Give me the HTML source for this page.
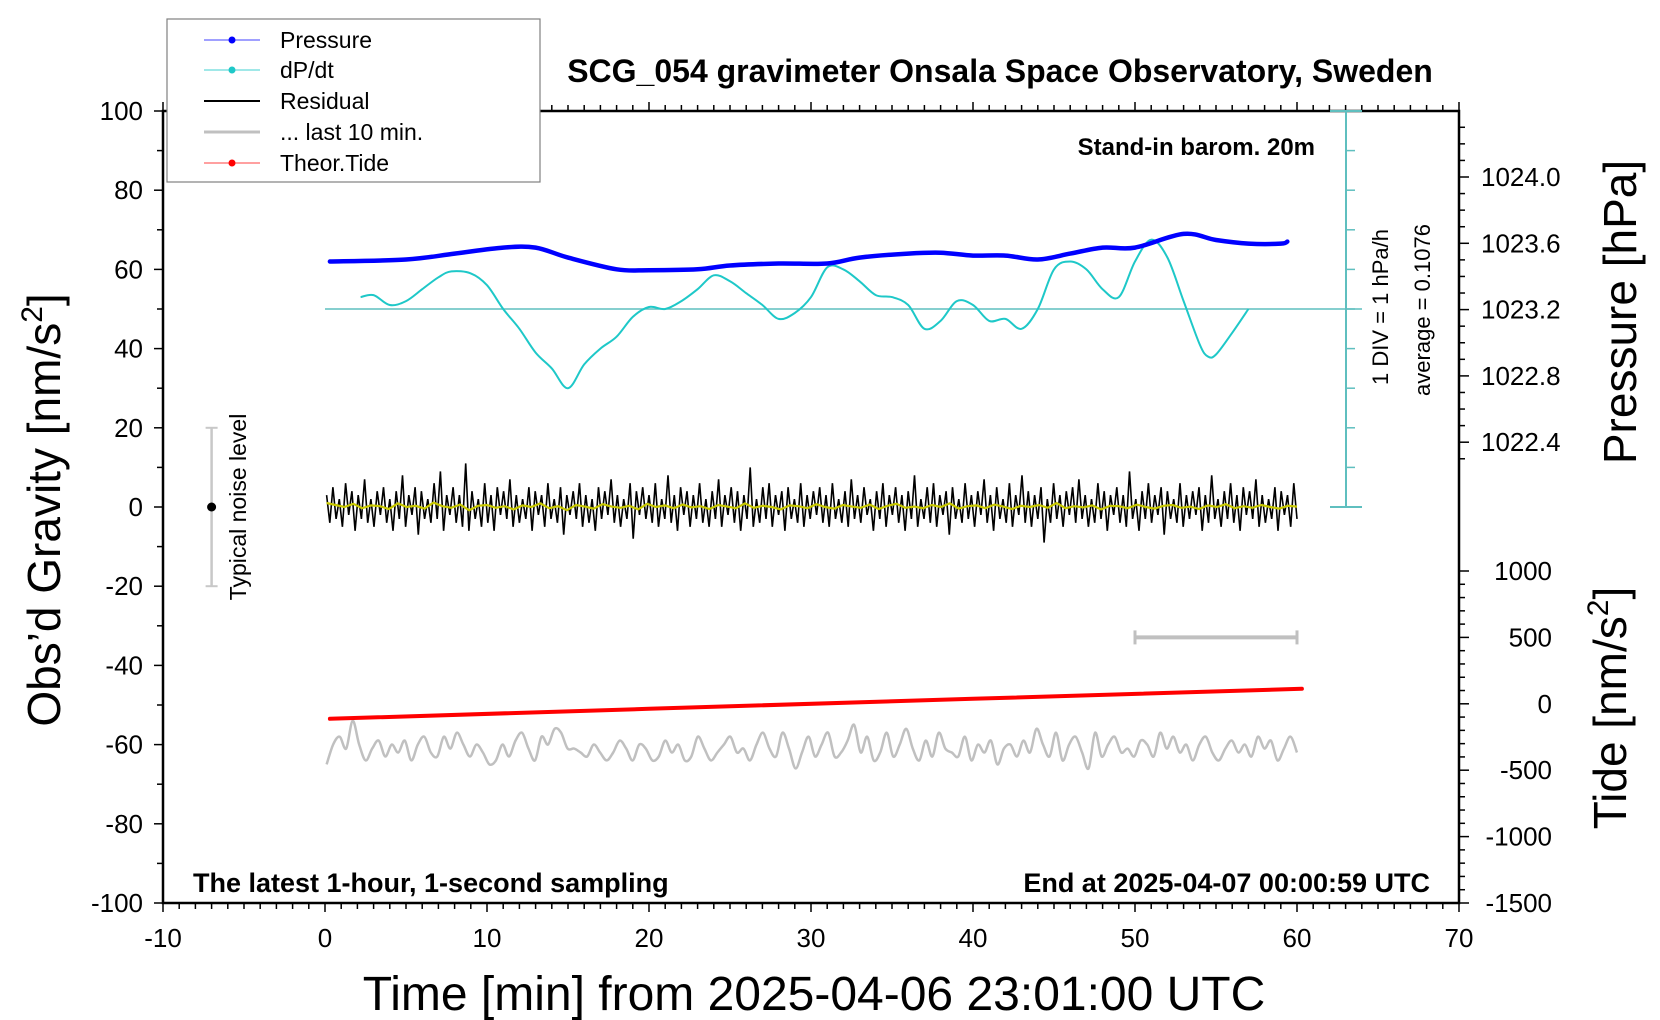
<!DOCTYPE html>
<html><head><meta charset="utf-8"><style>
html,body{margin:0;padding:0;background:#fff;}
svg{display:block;font-family:"Liberation Sans",sans-serif;}
</style></head><body>
<svg id="chart" width="1660" height="1020" viewBox="0 0 1660 1020" xmlns="http://www.w3.org/2000/svg">
<rect x="0" y="0" width="1660" height="1020" fill="#fff"/>
<g id="axes"></g>
<g id="series"></g>
<g id="labels"></g>
</svg>
<script>
// ---- data ----
const xTicks = [-10,0,10,20,30,40,50,60,70];
const gTicks = [100,80,60,40,20,0,-20,-40,-60,-80,-100];
const pTicks = [1024.0,1023.6,1023.2,1022.8,1022.4];
const tideTicks = [1000,500,0,-500,-1000,-1500];
const pressureT = [0.3,5,8,11,13,15,18,20,23,25,28,31,33,36,38,40,42,44,46,48,50,53,55,57,59,59.4];
const pressureV = [1023.49,1023.502,1023.538,1023.574,1023.574,1023.514,1023.443,1023.438,1023.443,1023.466,1023.478,1023.478,1023.514,1023.538,1023.543,1023.526,1023.526,1023.502,1023.538,1023.574,1023.574,1023.657,1023.62,1023.598,1023.598,1023.61];
const dpdtT = [2.2,3,4,5,6,7,7.8,9,10,11,12,13,14,15,16,17,18,19,20,21,22,23,24,25,26,27,28,29,30,31,32,33,34,35,36,37,38,39,40,41,42,43,44,45,46,47,48,49,50,51,52,53,54,54.5,55,56,57];
const dpdtV = [0.3,0.35,0.1,0.2,0.5,0.8,0.95,0.9,0.6,0.0,-0.5,-1.1,-1.5,-2.0,-1.4,-1.0,-0.7,-0.2,0.05,0.0,0.2,0.5,0.85,0.7,0.4,0.1,-0.25,-0.1,0.3,1.05,1.0,0.7,0.35,0.3,0.1,-0.5,-0.3,0.2,0.1,-0.3,-0.25,-0.5,0.0,1.0,1.2,1.0,0.5,0.3,1.2,1.75,1.3,0.2,-0.9,-1.2,-1.15,-0.6,0.0];
const dpdtAverage = 0.1076;
const residualV = [3,-4,5,-3,2,-5,6,-2,4,-6,3,-3,7,-4,2,-5,4,-2,5,-4,2,-6,4,-3,8,-5,3,-2,5,-7,4,-3,2,-4,6,-3,9,-6,3,-2,5,-4,3,-5,11,-6,4,-3,2,-5,6,-4,3,-6,5,-2,4,-3,7,-5,3,-4,2,-3,5,-6,4,-2,3,-5,6,-3,2,-4,5,-7,3,-2,4,-3,6,-5,3,-4,2,-6,5,-3,4,-2,7,-4,3,-5,2,-3,6,-8,4,-2,5,-3,3,-4,6,-5,2,-3,8,-4,3,-6,5,-2,4,-5,3,-3,6,-4,2,-5,4,-3,7,-5,3,-2,5,-4,4,-6,3,-3,10,-5,2,-4,5,-3,6,-5,3,-2,4,-6,5,-3,2,-4,6,-5,3,-3,4,-2,5,-4,3,-5,6,-3,2,-4,4,-5,7,-3,3,-4,5,-2,2,-6,4,-3,6,-5,3,-2,5,-4,3,-6,4,-3,8,-5,2,-3,5,-4,6,-5,3,-2,4,-7,5,-3,2,-4,6,-3,3,-5,4,-2,7,-4,3,-6,5,-3,2,-4,6,-5,3,-2,8,-4,4,-5,3,-3,5,-9,2,-4,6,-3,3,-5,4,-2,5,-4,7,-3,3,-5,2,-4,6,-3,4,-6,3,-2,5,-4,3,-5,9,-3,2,-6,4,-3,6,-4,3,-2,5,-7,4,-3,2,-4,6,-5,3,-3,4,-2,5,-6,3,-4,8,-3,2,-5,4,-3,6,-4,3,-6,5,-2,4,-3,7,-5,3,-4,2,-3,5,-6,4,-2,3,-5,6,-3];
const smoothV = [1,0.5,0,0.8,-0.3,0.4,0.2,-0.5,0.9,0,0.3,-0.4,1.1,0.2,-0.2,0.6,-0.8,0.3,0.5,-0.2,0.2,-0.6,0.4,0,0.9,-0.3,0.2,-0.8,0.5,0.1,-0.4,0.7,0.1,-0.2,0.3,-0.6,0.8,0,0.4,-0.3,0.6,-0.1,0.2,-0.5,0.5,0.1,-0.3,0.9,-0.2,0.3,0,-0.6,0.4,0.2,-0.3,0.7,0,-0.4,0.5,0.1,-0.2,0.6,-0.5,0.3,0.8,-0.2,0.1,-0.3,0.5,0,0.9,-0.4,0.2,0.4,-0.3,0.6,0.1,-0.5,0.3,0,0.5,-0.2,1,-0.3,0.2,-0.1,0.4,-0.6,0.3,0.2,-0.3,0.6,0,-0.4,0.3,0.5,-0.2,0.1,-0.5,0.4,0,0.7,-0.3,0.2,-0.2,0.5,0,-0.4,0.3,0.1];
const last10V = [-65,-60,-58,-61,-54,-60,-64,-61,-59,-63,-60,-62,-59,-64,-60,-58,-62,-63,-58,-61,-57,-60,-63,-60,-62,-65,-64,-60,-63,-59,-57,-61,-64,-58,-60,-56,-57,-61,-61,-62,-63,-60,-62,-64,-62,-59,-61,-64,-60,-61,-64,-63,-59,-62,-60,-64,-63,-58,-61,-64,-62,-60,-58,-62,-61,-64,-60,-57,-61,-63,-57,-61,-66,-62,-58,-63,-60,-57,-63,-62,-59,-55,-62,-58,-64,-62,-57,-63,-60,-56,-61,-64,-59,-63,-57,-61,-62,-63,-58,-64,-60,-62,-59,-65,-61,-60,-63,-59,-62,-56,-60,-63,-57,-64,-60,-58,-62,-66,-57,-63,-60,-58,-62,-61,-63,-59,-60,-63,-57,-61,-58,-62,-60,-64,-60,-58,-62,-64,-61,-59,-62,-60,-63,-58,-61,-59,-64,-61,-58,-62];
const tideT = [0.3,20,40,60.3];
const tideV = [-113,-38,38,113];

// ---- scales ----
const X0=163, X1=1459, Y0=111, Y1=903;
const xS = t => X0 + (t+10)*(X1-X0)/80;
const yG = v => Y0 + (100-v)*(Y1-Y0)/200;
const yP = p => 177 + (1024-p)*(66.3/0.4);
const yT = n => Y1 - (n+1500)*(66.4/500);
const yD = d => yG(50 + d*10);

const NS='http://www.w3.org/2000/svg';
function mk(tag, attrs, parent, text){
  const e=document.createElementNS(NS,tag);
  for(const k in attrs) e.setAttribute(k,attrs[k]);
  if(text!==undefined) e.textContent=text;
  parent.appendChild(e); return e;
}
const axes=document.getElementById('axes');
const series=document.getElementById('series');
const labels=document.getElementById('labels');

function smoothPath(pts){
  let d='M'+pts[0][0].toFixed(1)+','+pts[0][1].toFixed(1);
  for(let i=0;i<pts.length-1;i++){
    const p0=pts[i-1]||pts[i],p1=pts[i],p2=pts[i+1],p3=pts[i+2]||p2;
    const c1=[p1[0]+(p2[0]-p0[0])/6,p1[1]+(p2[1]-p0[1])/6];
    const c2=[p2[0]-(p3[0]-p1[0])/6,p2[1]-(p3[1]-p1[1])/6];
    d+='C'+c1[0].toFixed(1)+','+c1[1].toFixed(1)+' '+c2[0].toFixed(1)+','+c2[1].toFixed(1)+' '+p2[0].toFixed(1)+','+p2[1].toFixed(1);
  }
  return d;
}
function poly(pts){return pts.map(p=>p[0].toFixed(1)+','+p[1].toFixed(1)).join(' ');}

const frame=mk('rect',{x:X0,y:Y0,width:X1-X0,height:Y1-Y0,fill:'none',stroke:'#000','stroke-width':2.5},axes);



for(let m=-10;m<=70;m++){
  const x=xS(m), major=(m%10===0);
  const L=major?9:6;
  mk('line',{x1:x,y1:Y1,x2:x,y2:Y1+L,stroke:'#000','stroke-width':1.5},axes);
  mk('line',{x1:x,y1:Y0,x2:x,y2:Y0-L,stroke:'#000','stroke-width':1.5},axes);
}
xTicks.forEach(t=>{
  const e=mk('text',{x:xS(t),y:947,'text-anchor':'middle','font-size':26},labels,String(t));
  
  
});
for(let v=-100;v<=100;v+=10){
  const y=yG(v), major=(v%20===0);
  mk('line',{x1:X0,y1:y,x2:X0-(major?9:6),y2:y,stroke:'#000','stroke-width':1.5},axes);
}
gTicks.forEach(v=>{
  const e=mk('text',{x:143,y:yG(v)+9,'text-anchor':'end','font-size':26},labels,String(v));
  
  
});
for(let i=-2;i<=19;i++){
  const p=1024.0+0.2 - i*0.1;
  const y=yP(p); if(y<Y0+2||y>Y1) continue;
  const maj=Math.abs(((1024.0-p)/0.4)-Math.round((1024.0-p)/0.4))<0.01 && y<460;
  mk('line',{x1:X1,y1:y,x2:X1+(maj?10:6),y2:y,stroke:'#000','stroke-width':1.5},axes);
}
pTicks.forEach(p=>{
  const e=mk('text',{x:1481,y:yP(p)+9,'font-size':26},labels,p.toFixed(1));
  
  
});
for(let n=-1500;n<=1000;n+=100){
  const y=yT(n), maj=(n%500===0);
  mk('line',{x1:X1,y1:y,x2:X1+(maj?10:6),y2:y,stroke:'#000','stroke-width':1.5},axes);
}
tideTicks.forEach(n=>{
  const e=mk('text',{x:1552,y:yT(n)+9,'text-anchor':'end','font-size':26},labels,String(n));
  
  
});

const sx=1346;
mk('line',{x1:sx,y1:yG(100),x2:sx,y2:yG(0),stroke:'#5fbfbf','stroke-width':2},axes);
for(let v=10;v<100;v+=10){ mk('line',{x1:sx,y1:yG(v),x2:sx+9,y2:yG(v),stroke:'#5fbfbf','stroke-width':1.5},axes); }
mk('line',{x1:sx-16,y1:yG(100),x2:sx+16,y2:yG(100),stroke:'#5fbfbf','stroke-width':2},axes);
mk('line',{x1:sx-16,y1:yG(0),x2:sx+16,y2:yG(0),stroke:'#5fbfbf','stroke-width':2},axes);
const zl=mk('line',{x1:xS(0),y1:yD(0),x2:sx+16,y2:yD(0),stroke:'#5fbfbf','stroke-width':1.5},series);



mk('line',{x1:xS(-7),y1:yG(20),x2:xS(-7),y2:yG(-20),stroke:'#c8c8c8','stroke-width':2.5},series);
mk('line',{x1:xS(-7)-6,y1:yG(20),x2:xS(-7)+6,y2:yG(20),stroke:'#c8c8c8','stroke-width':2},series);
mk('line',{x1:xS(-7)-6,y1:yG(-20),x2:xS(-7)+6,y2:yG(-20),stroke:'#c8c8c8','stroke-width':2},series);
mk('circle',{cx:xS(-7),cy:yG(0),r:4.5,fill:'#000'},series);

const b10y=yT(500);
mk('line',{x1:xS(50),y1:b10y,x2:xS(60),y2:b10y,stroke:'#c0c0c0','stroke-width':4},series);
mk('line',{x1:xS(50),y1:b10y-7,x2:xS(50),y2:b10y+7,stroke:'#c0c0c0','stroke-width':3},series);
mk('line',{x1:xS(60),y1:b10y-7,x2:xS(60),y2:b10y+7,stroke:'#c0c0c0','stroke-width':3},series);

const resPts=residualV.map((v,i)=>[xS(0.1+i*59.9/(residualV.length-1)),yG(v)]);
const res=mk('polyline',{points:poly(resPts),fill:'none',stroke:'#000','stroke-width':1.6},series);


const smPts=smoothV.map((v,i)=>[xS(0.1+i*59.9/(smoothV.length-1)),yG(v)]);
const sm=mk('polyline',{points:poly(smPts),fill:'none',stroke:'#c8c800','stroke-width':2.2},series);



const l10Pts=last10V.map((v,i)=>[xS(0.1+i*59.9/(last10V.length-1)),yG(v)]);
const l10=mk('path',{d:smoothPath(l10Pts),fill:'none',stroke:'#c0c0c0','stroke-width':2.5},series);



const tPts=tideT.map((t,i)=>[xS(t),yT(tideV[i])]);
const tide=mk('polyline',{points:poly(tPts),fill:'none',stroke:'#ff0000','stroke-width':4,'stroke-linecap':'round'},series);



const dPts=dpdtT.map((t,i)=>[xS(t),yD(dpdtV[i])]);
const dp=mk('path',{d:smoothPath(dPts),fill:'none',stroke:'#1ec8c8','stroke-width':2},series);



const pPts=pressureT.map((t,i)=>[xS(t),yP(pressureV[i])]);
const pr=mk('path',{d:smoothPath(pPts),fill:'none',stroke:'#0000ff','stroke-width':4.5,'stroke-linecap':'round'},series);


</script>

<svg style="position:absolute;left:0;top:0" width="1660" height="1020" xmlns="http://www.w3.org/2000/svg" font-family="Liberation Sans, sans-serif">
  <text x="1000" y="82" text-anchor="middle" font-size="32" font-weight="bold">SCG_054 gravimeter Onsala Space Observatory, Sweden</text>
  <text x="1315" y="155" text-anchor="end" font-size="24" font-weight="bold">Stand-in barom. 20m</text>
  <text x="193" y="892" font-size="27" font-weight="bold">The latest 1-hour, 1-second sampling</text>
  <text x="1430" y="892" text-anchor="end" font-size="27" font-weight="bold">End at 2025-04-07 00:00:59 UTC</text>
  <text x="814" y="1010" text-anchor="middle" font-size="48">Time [min] from 2025-04-06 23:01:00 UTC</text>
  <text transform="translate(60,510) rotate(-90)" text-anchor="middle" font-size="46">Obs’d Gravity [nm/s<tspan font-size="30" dy="-18">2</tspan><tspan dy="18">]</tspan></text>
  <text transform="translate(1636,312) rotate(-90)" text-anchor="middle" font-size="46">Pressure [hPa]</text>
  <text transform="translate(1626,708) rotate(-90)" text-anchor="middle" font-size="46">Tide [nm/s<tspan font-size="30" dy="-18">2</tspan><tspan dy="18">]</tspan></text>
  <text transform="translate(246,507) rotate(-90)" text-anchor="middle" font-size="23">Typical noise level</text>
  <text transform="translate(1388,307) rotate(-90)" text-anchor="middle" font-size="22">1 DIV = 1 hPa/h</text>
  <text transform="translate(1430,310) rotate(-90)" text-anchor="middle" font-size="22">average = 0.1076</text>
  <g>
    <rect x="167" y="19" width="373" height="163" fill="#fff" stroke="#808080" stroke-width="1.2"/>
    <g>
      <line x1="204" y1="40" x2="260" y2="40" stroke="#4040ff" stroke-width="1"/><circle cx="232" cy="40" r="3.5" fill="#0000ff"/>
      <text x="280" y="48" font-size="23">Pressure</text></g>
    <g>
      <line x1="204" y1="70" x2="260" y2="70" stroke="#40d0d0" stroke-width="1"/><circle cx="232" cy="70" r="3.5" fill="#1ec8c8"/>
      <text x="280" y="78" font-size="23">dP/dt</text></g>
    <g>
      <line x1="204" y1="101" x2="260" y2="101" stroke="#000" stroke-width="2"/>
      <text x="280" y="109" font-size="23">Residual</text></g>
    <g>
      <line x1="204" y1="132" x2="260" y2="132" stroke="#c0c0c0" stroke-width="3"/>
      <text x="280" y="140" font-size="23">... last 10 min.</text></g>
    <g>
      <line x1="204" y1="163" x2="260" y2="163" stroke="#ff4040" stroke-width="1"/><circle cx="232" cy="163" r="3.5" fill="#ff0000"/>
      <text x="280" y="171" font-size="23">Theor.Tide</text></g>
  </g>
</svg>
</body></html>
